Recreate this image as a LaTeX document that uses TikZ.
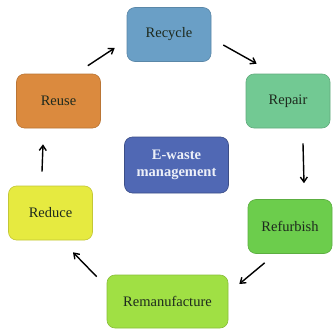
\documentclass[tikz,border=0pt]{standalone}
\usepackage{fontspec}
\setmainfont{Liberation Serif}
\usetikzlibrary{arrows.meta}
\definecolor{cRecycle}{HTML}{6A9FC6}
\definecolor{cRepair}{HTML}{72C993}
\definecolor{cReuse}{HTML}{DB8A3E}
\definecolor{cEwaste}{HTML}{5068B4}
\definecolor{cReduce}{HTML}{E6EA40}
\definecolor{cRefurb}{HTML}{6CCD4C}
\definecolor{cReman}{HTML}{A0E044}
\definecolor{txt}{HTML}{1E2A1E}
\begin{document}
\begin{tikzpicture}[x=1pt,y=-1pt,
  box/.style={rounded corners=8pt, minimum width=84pt, minimum height=54pt, inner sep=2pt,
    font=\fontsize{14.5}{17}\selectfont, text=txt, line width=0.6pt},
  arr/.style={-{Straight Barb[length=5pt,width=7pt]}, line width=1.4pt, black}]
\useasboundingbox (0,0) rectangle (333,330);
\fill[white] (0,0) rectangle (333,330);
\node[box, fill=cRecycle, draw=cRecycle!85!black] (recycle) at (169,34.5) {Recycle};
\node[box, fill=cRepair, draw=cRepair!85!black] (repair) at (288,101) {Repair};
\node[box, fill=cReuse, draw=cReuse!85!black] (reuse) at (58.5,101) {Reuse};
\node[box, fill=cReduce, draw=cReduce!85!black] (reduce) at (50.5,213) {Reduce};
\node[box, fill=cRefurb, draw=cRefurb!85!black] (refurb) at (290,226.5) {Refurbish};
\node[box, fill=cReman, draw=cReman!85!black, minimum width=121pt, minimum height=53pt] (reman) at (167.5,301.5) {Remanufacture};
\node[box, fill=cEwaste, draw=cEwaste!75!black, minimum width=104pt, minimum height=56pt,
  text=white!90!cEwaste, font=\fontsize{14.5}{17}\selectfont\bfseries, align=center] (ewaste) at (176.5,165) {E-waste\\management};
\draw[arr] ([xshift=-13pt,yshift=8pt]reuse.north east) -- ([xshift=-12pt,yshift=-13.5pt]recycle.west);
\draw[arr] ([xshift=12pt,yshift=-10.5pt]recycle.east) -- ([xshift=11pt,yshift=10pt]repair.north west);
\draw[arr] ([xshift=15pt,yshift=-15pt]repair.south) -- ([xshift=14pt,yshift=16pt]refurb.north);
\draw[arr] ([xshift=17pt,yshift=-9pt]refurb.south west) -- ([xshift=11pt,yshift=17.5pt]reman.east);
\draw[arr] ([xshift=-10pt,yshift=-2pt]reman.north west) -- ([xshift=22.5pt,yshift=-12pt]reduce.south);
\draw[arr] ([xshift=-8.5pt,yshift=14pt]reduce.north) -- ([xshift=-15.5pt,yshift=-16pt]reuse.south);
\end{tikzpicture}
\end{document}
